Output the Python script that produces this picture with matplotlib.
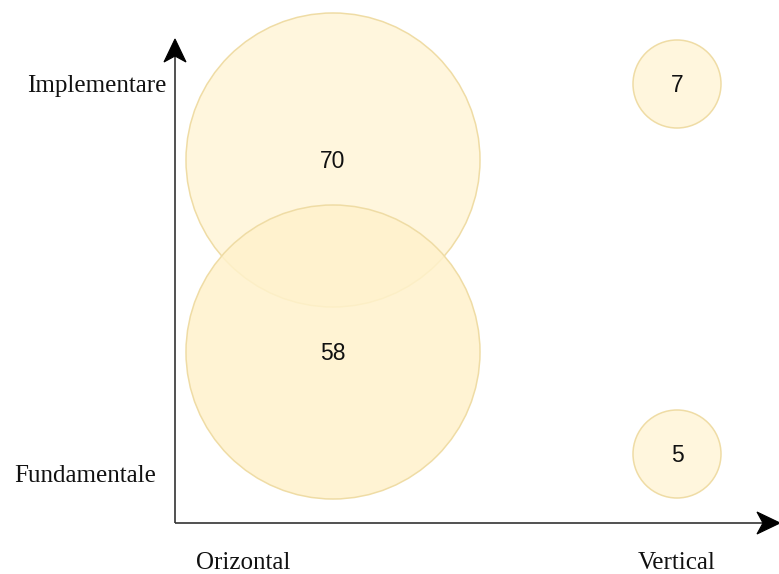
import matplotlib.pyplot as plt
from matplotlib.patches import Circle, Polygon

# bubble data (pixel layout of the original diagram)
values = [70, 58, 7, 5]
centers_x = [333, 333, 677, 677]
centers_y = [160, 352, 84, 454]
radii = [147, 147, 44, 44]
alphas = [0.65, 0.85, 0.65, 0.65]

y_labels = ["Implementare", "Fundamentale"]
y_label_pos = [86, 476]
y_label_right = [166, 156]
x_labels = ["Orizontal", "Vertical"]
x_label_pos = [243, 677]

W, H = 779, 574
fig = plt.figure(figsize=(W / 100, H / 100), dpi=100)
ax = fig.add_axes([0, 0, 1, 1])
ax.set_xlim(0, W)
ax.set_ylim(H, 0)
ax.axis('off')

for v, x, y, r, a in zip(values, centers_x, centers_y, radii, alphas):
    ax.add_patch(Circle((x, y), r, facecolor='#fff2cc', alpha=a, edgecolor='none'))
    ax.add_patch(Circle((x, y), r, facecolor='none', edgecolor='#efdca5', lw=1.1))
    ax.text(x, y + 1, str(v), ha='center', va='center', fontsize=16.5,
            family='Liberation Sans', color='#111111')


def arrow_head(tip, direction, length=23, half=11, notch=6):
    # drawio style "classic" arrow head with a notched back
    tx, ty = tip
    dx, dy = direction
    px, py = -dy, dx
    bx, by = tx - dx * length, ty - dy * length
    pts = [(tx, ty),
           (bx + px * half, by + py * half),
           (bx + dx * notch, by + dy * notch),
           (bx - px * half, by - py * half)]
    ax.add_patch(Polygon(pts, closed=True, facecolor='black', edgecolor='black',
                         lw=0.8, zorder=5))


ox, oy = 175, 523
ax.plot([ox, ox], [oy, 55], color='#333333', lw=1.2, solid_capstyle='butt')
ax.plot([ox, 765], [oy, oy], color='#333333', lw=1.2, solid_capstyle='butt')
arrow_head((ox, 39), (0, -1))
arrow_head((780, oy), (1, 0))

for lab, y, xr in zip(y_labels, y_label_pos, y_label_right):
    ax.text(xr, y, lab, ha='right', va='center', fontsize=18,
            family='Liberation Serif', color='#111111')
for lab, x in zip(x_labels, x_label_pos):
    ax.text(x, 563, lab, ha='center', va='center', fontsize=18,
            family='Liberation Serif', color='#111111')

fig.savefig('out.png', dpi=100)
